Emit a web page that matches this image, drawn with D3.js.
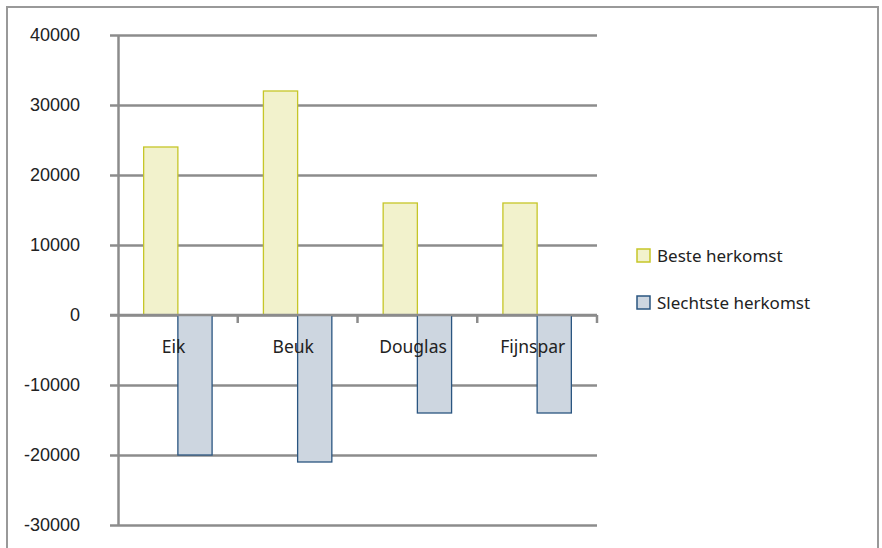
<!DOCTYPE html>
<html>
<head>
<meta charset="utf-8">
<script src="https://cdn.jsdelivr.net/npm/d3@7"></script>
<style>
    body { margin: 0; background: #fff; }
    svg { display: block; }
    .axis text { font-family: "Liberation Sans", Arial, sans-serif; font-size: 18px; fill: #222; }
    .cat text { font-family: "Noto Sans", sans-serif; font-size: 17.5px; fill: #222; }
    .legend text { font-family: "Noto Sans", sans-serif; font-size: 17px; fill: #222; }
</style>
</head>
<body>
<svg width="882" height="548"></svg>
<script>
    var categories = ["Eik", "Beuk", "Douglas", "Fijnspar"];
    var series = ["Beste herkomst", "Slechtste herkomst"];
    var besteValues = [24000, 32000, 16000, 16000];
    var slechtsteValues = [-20000, -21000, -14000, -14000];
    var yTicks = [-30000, -20000, -10000, 0, 10000, 20000, 30000, 40000];

    var fills = ["#f2f2cc", "#cdd6e0"],
        strokes = ["#c6c628", "#2a5580"],
        grey = "#8c8c8c";

    var data = categories.map(function(c, i) {
        return { cat: c, values: [besteValues[i], slechtsteValues[i]] };
    });

    var svg = d3.select("svg");

    // frame
    svg.append("rect")
        .attr("x", 7).attr("y", 7)
        .attr("width", 871).attr("height", 560)
        .attr("fill", "none")
        .attr("stroke", "#999")
        .attr("stroke-width", 2);

    var x = d3.scaleBand().domain(categories).range([118, 597]),
        xs = d3.scaleBand().domain(series).range([0, x.bandwidth()]).paddingOuter(0.75),
        y = d3.scaleLinear().domain([-30000, 40000]).range([525, 35]);

    // gridlines
    svg.append("g")
        .attr("class", "grid")
        .attr("transform", "translate(118,0)")
        .call(d3.axisRight(y).tickValues(yTicks).tickSize(479).tickFormat(""))
        .call(function(g) { g.select(".domain").remove(); })
        .selectAll("line")
        .attr("stroke", grey)
        .attr("stroke-width", 2.5);

    // bars
    var groups = svg.selectAll(".group")
        .data(data)
        .enter().append("g")
        .attr("class", "group")
        .attr("transform", function(d) { return "translate(" + x(d.cat) + ",0)"; });

    groups.selectAll("rect")
        .data(function(d) { return d.values.map(function(v, i) { return { s: series[i], v: v, i: i }; }); })
        .enter().append("rect")
        .attr("x", function(d) { return xs(d.s); })
        .attr("width", xs.bandwidth())
        .attr("y", function(d) { return y(Math.max(0, d.v)); })
        .attr("height", function(d) { return Math.abs(y(d.v) - y(0)); })
        .attr("fill", function(d) { return fills[d.i]; })
        .attr("stroke", function(d) { return strokes[d.i]; })
        .attr("stroke-width", 1.3);

    // y axis (plain hyphen for negatives, like the original)
    svg.append("g")
        .attr("class", "axis axis--y")
        .attr("transform", "translate(118,0)")
        .call(d3.axisLeft(y).tickValues(yTicks).tickSizeInner(8).tickSizeOuter(0).tickPadding(30)
            .tickFormat(function(d) { return String(d); }))
        .call(function(g) {
            g.selectAll("line").attr("stroke", grey).attr("stroke-width", 2.5);
            g.select(".domain").attr("stroke", grey).attr("stroke-width", 2.5);
        });

    // x axis at zero
    var xAxis = svg.append("g")
        .attr("class", "cat")
        .attr("transform", "translate(0," + y(0) + ")");

    xAxis.call(d3.axisBottom(x).tickSize(0).tickPadding(26))
        .call(function(g) {
            g.select(".domain").remove();
            g.selectAll("text").attr("font-family", null).attr("font-size", null).attr("dx", "-0.25em");
        });

    xAxis.selectAll(".sep")
        .data(categories.slice(1).concat(["end"]))
        .enter().append("line")
        .attr("x1", function(d) { return d === "end" ? x.range()[1] : x(d); })
        .attr("x2", function(d) { return d === "end" ? x.range()[1] : x(d); })
        .attr("y1", 0).attr("y2", 8)
        .attr("stroke", grey).attr("stroke-width", 2.5);

    xAxis.append("line")
        .attr("x1", 110).attr("x2", x.range()[1])
        .attr("stroke", grey).attr("stroke-width", 2.5);

    // legend
    var legend = svg.selectAll(".legend")
        .data(series)
        .enter().append("g")
        .attr("class", "legend")
        .attr("transform", function(d, i) { return "translate(637," + (249 + i * 47) + ")"; });

    legend.append("rect")
        .attr("width", 13).attr("height", 13)
        .attr("fill", function(d, i) { return fills[i]; })
        .attr("stroke", function(d, i) { return strokes[i]; })
        .attr("stroke-width", 1.5);

    legend.append("text")
        .attr("x", 20).attr("y", 7)
        .attr("dy", "0.35em")
        .text(function(d) { return d; });
</script>
</body>
</html>
